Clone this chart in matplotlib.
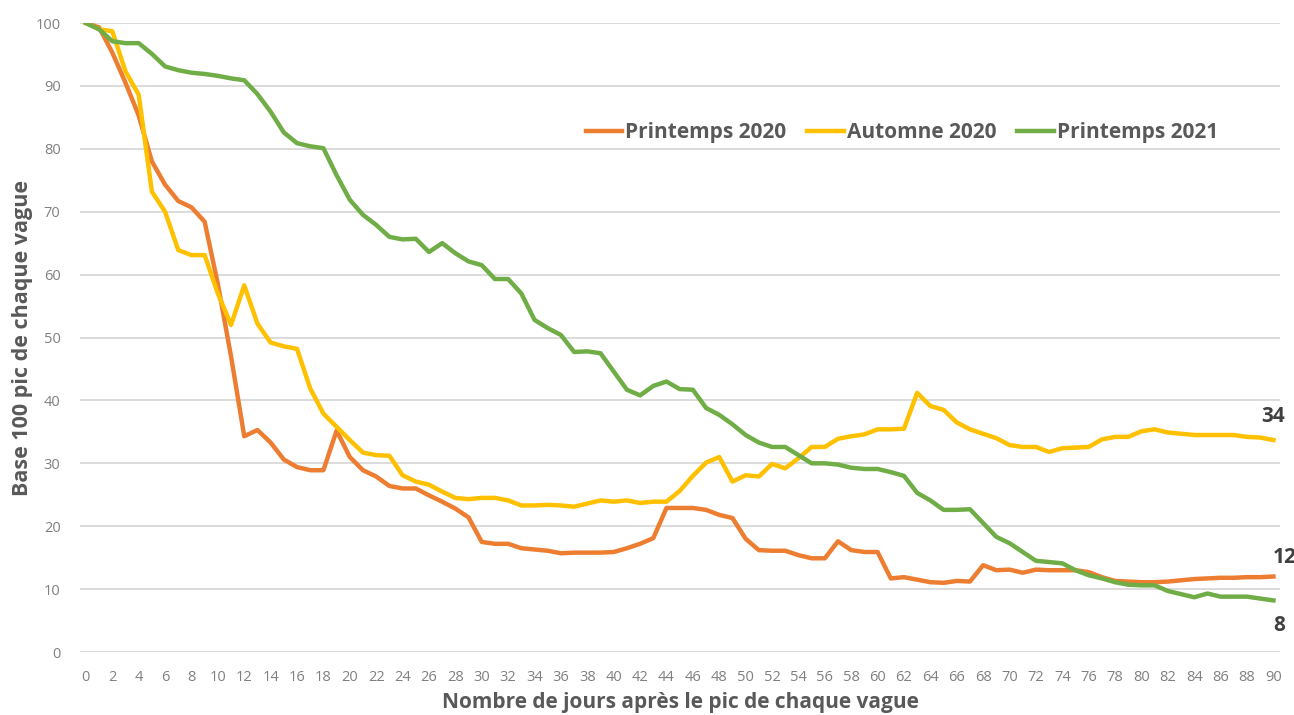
import matplotlib
matplotlib.use("Agg")
import matplotlib.pyplot as plt

plt.rcParams['font.family'] = ['Open Sans', 'DejaVu Sans']

days = list(range(0, 91))

printemps_2020 = [100, 99.3, 95.3, 90.5, 85.3, 78, 74.3, 71.7, 70.7, 68.4,
                  58.5, 47, 34.3, 35.3, 33.3, 30.6, 29.4, 28.9, 28.9, 35.2,
                  31, 28.9, 27.9, 26.4, 26, 26, 24.9, 23.9, 22.8, 21.4,
                  17.5, 17.2, 17.2, 16.5, 16.3, 16.1, 15.7, 15.8, 15.8, 15.8,
                  15.9, 16.5, 17.2, 18.1, 22.9, 22.9, 22.9, 22.6, 21.8, 21.3,
                  18, 16.2, 16.1, 16.1, 15.4, 14.9, 14.9, 17.6, 16.2, 15.9,
                  15.9, 11.7, 11.9, 11.5, 11.1, 11, 11.3, 11.2, 13.8, 13,
                  13.1, 12.6, 13.1, 13, 13, 13, 12.7, 11.9, 11.3, 11.2,
                  11.1, 11.1, 11.2, 11.4, 11.6, 11.7, 11.8, 11.8, 11.9, 11.9,
                  12.0]

automne_2020 = [100, 99, 98.7, 92.3, 88.6, 73.2, 70, 63.9, 63.1, 63.1,
                57, 52, 58.3, 52.2, 49.2, 48.6, 48.2, 41.9, 37.9, 35.8,
                33.7, 31.7, 31.3, 31.2, 28.1, 27.1, 26.6, 25.5, 24.5, 24.3,
                24.5, 24.5, 24.1, 23.3, 23.3, 23.4, 23.3, 23.1, 23.6, 24.1,
                23.9, 24.1, 23.7, 23.9, 23.9, 25.6, 28, 30.1, 31, 27.1,
                28.1, 27.9, 29.9, 29.2, 30.8, 32.6, 32.6, 33.9, 34.3, 34.6,
                35.4, 35.4, 35.5, 41.2, 39.1, 38.5, 36.5, 35.4, 34.7, 34,
                32.9, 32.6, 32.6, 31.8, 32.4, 32.5, 32.6, 33.8, 34.2, 34.2,
                35.1, 35.4, 34.9, 34.7, 34.5, 34.5, 34.5, 34.5, 34.2, 34.1,
                33.7]

printemps_2021 = [100, 99, 97.1, 96.8, 96.8, 95.1, 93.1, 92.5, 92.1, 91.9,
                  91.6, 91.2, 90.9, 88.7, 85.9, 82.6, 80.9, 80.4, 80.1, 75.8,
                  71.9, 69.5, 67.9, 66, 65.6, 65.7, 63.6, 65, 63.4, 62.1,
                  61.5, 59.3, 59.3, 57, 52.8, 51.5, 50.4, 47.7, 47.8, 47.5,
                  44.6, 41.7, 40.8, 42.3, 43, 41.8, 41.7, 38.8, 37.7, 36.2,
                  34.5, 33.3, 32.6, 32.6, 31.3, 30, 30, 29.8, 29.3, 29.1,
                  29.1, 28.6, 28, 25.3, 24.1, 22.6, 22.6, 22.7, 20.5, 18.3,
                  17.3, 15.9, 14.5, 14.3, 14.1, 13, 12.2, 11.7, 11.1, 10.7,
                  10.6, 10.6, 9.7, 9.2, 8.7, 9.3, 8.8, 8.8, 8.8, 8.5,
                  8.2]

series = [
    ("Printemps 2020", printemps_2020, "#ED7D31"),
    ("Automne 2020", automne_2020, "#FFC000"),
    ("Printemps 2021", printemps_2021, "#70AD47"),
]

# end-of-line labels: text offset in points
end_offsets = {"Printemps 2020": (8, 14), "Automne 2020": (0, 17), "Printemps 2021": (4, -18)}

fig = plt.figure(figsize=(12.94, 7.15), dpi=100)
ax = fig.add_axes([0.0618, 0.0881, 0.9274, 0.8797])

for name, vals, col in series:
    ax.plot(days, vals, color=col, lw=3.2, label=name)

for name, vals, col in series:
    dx, dy = end_offsets[name]
    ax.annotate(str(round(vals[-1])), xy=(days[-1], vals[-1]), xytext=(dx, dy),
                textcoords='offset points', ha='center', va='center',
                fontsize=15, fontweight='bold', color='#404040')

ax.set_xlim(-0.45, 90.5)
ax.set_ylim(0, 100)
ax.set_xticks(range(0, 91, 2))
ax.set_yticks(range(0, 101, 10))
ax.grid(axis='y', color='#D9D9D9', lw=1.3)
ax.set_axisbelow(True)
for s in ax.spines.values():
    s.set_visible(False)
ax.tick_params(length=0, labelsize=10.5, labelcolor='#808080')
ax.tick_params(axis='x', pad=13)
ax.tick_params(axis='y', pad=14)

ax.set_xlabel("Nombre de jours après le pic de chaque vague", fontsize=15,
              fontweight='bold', color='#595959', labelpad=5)
ax.set_ylabel("Base 100 pic de chaque vague", fontsize=15.5,
              fontweight='bold', color='#595959', labelpad=2)

leg = ax.legend(loc='center', bbox_to_anchor=(0.685, 0.826), ncol=3, frameon=False,
                fontsize=15, handlelength=1.75, handletextpad=0.15, columnspacing=1.0)
for t in leg.get_texts():
    t.set_color('#595959')
    t.set_fontweight('bold')

fig.savefig("out.png", dpi=100)
